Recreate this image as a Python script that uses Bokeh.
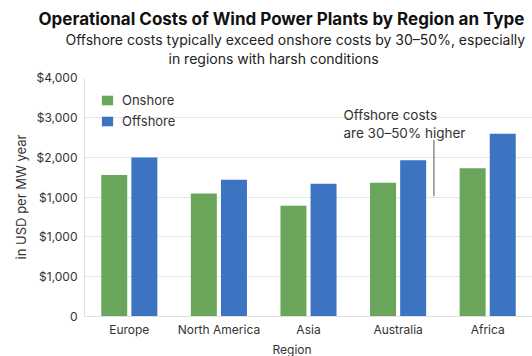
from bokeh.plotting import figure
from bokeh.models import ColumnDataSource, FixedTicker, Label, Legend, LegendItem, Title
from bokeh.transform import dodge
from bokeh.embed import file_html
from bokeh.resources import INLINE

regions = ["Europe", "North America", "Asia", "Australia", "Africa"]
onshore = [3550, 3090, 2780, 3360, 3720]
offshore = [3990, 3430, 3330, 3920, 4590]
y_ticks = [0, 1000, 2000, 3000, 4000, 5000, 6000]
y_tick_labels = ["0", "$1,000", "$1,000", "$1,000", "$2,000", "$3,000", "$4,000"]

title = "Operational Costs of Wind Power Plants by Region an Type"
subtitle1 = "Offshore costs typically exceed onshore costs by 30\u201350%, especially"
subtitle2 = "in regions with harsh conditions"
note1 = "Offshore costs"
note2 = "are 30\u201350% higher"
x_title = "Region"
y_title = "in USD per MW year"

FONT = "Inter"
GREEN = "#6aa55c"
BLUE = "#3c74c2"

src = ColumnDataSource(dict(region=regions, onshore=onshore, offshore=offshore))

p = figure(width=532, height=356, x_range=regions, y_range=(0, 6000),
           output_backend="svg", toolbar_location=None, title=None,
           min_border_left=84, min_border_right=0, min_border_top=77, min_border_bottom=38)
p.outline_line_color = None
p.background_fill_color = "white"
p.border_fill_color = "white"

r1 = p.vbar(x=dodge("region", -0.168, range=p.x_range), top="onshore", width=0.29,
            source=src, fill_color=GREEN, line_color=None)
r2 = p.vbar(x=dodge("region", 0.168, range=p.x_range), top="offshore", width=0.29,
            source=src, fill_color=BLUE, line_color=None)

p.x_range.range_padding = 0
p.xgrid.grid_line_color = None
p.ygrid.grid_line_color = "#e6e6e6"
p.yaxis.ticker = FixedTicker(ticks=y_ticks)
p.yaxis.major_label_overrides = {t: l for t, l in zip(y_ticks, y_tick_labels)}

for ax in (p.xaxis, p.yaxis):
    ax.axis_line_color = "#e0e0e0"
    ax.major_tick_line_color = None
    ax.minor_tick_line_color = None
    ax.major_tick_out = 0
    ax.major_tick_in = 0
    ax.minor_tick_out = 0
    ax.minor_tick_in = 0
    ax.major_label_text_font = FONT
    ax.major_label_text_font_size = "12px"
    ax.major_label_text_color = "#333333"

p.xaxis.major_label_standoff = 5
p.yaxis.axis_label = y_title
p.yaxis.axis_label_text_font = FONT
p.yaxis.axis_label_text_font_size = "13px"
p.yaxis.axis_label_text_font_style = "normal"
p.yaxis.axis_label_text_color = "#333333"
p.yaxis.major_label_standoff = 7
p.yaxis.axis_label_standoff = 5

# x-axis title as a compact title below the axis
p.add_layout(Title(text=x_title, text_font=FONT, text_font_size="12px",
                   text_font_style="normal", text_color="#333333",
                   align="left", offset=188, standoff=0), "below")

legend = Legend(items=[LegendItem(label="Onshore", renderers=[r1]),
                       LegendItem(label="Offshore", renderers=[r2])],
                location=(16, 187), margin=0, padding=8,
                glyph_width=14, glyph_height=12, label_height=12,
                label_standoff=8, spacing=5,
                label_text_font=FONT, label_text_font_size="13px",
                label_text_color="#333333",
                background_fill_alpha=0, border_line_color=None)
p.add_layout(legend)

# titles stacked above the frame: first added sits closest to the plot
p.add_layout(Title(text=" ", text_font_size="1px", standoff=8), "above")
p.add_layout(Title(text=subtitle2, text_font=FONT, text_font_size="14px",
                   text_font_style="normal", text_color="#222222",
                   align="left", offset=84, standoff=0), "above")
p.add_layout(Title(text=subtitle1, text_font=FONT, text_font_size="14px",
                   text_font_style="normal", text_color="#222222",
                   align="left", offset=-19, standoff=0), "above")
p.add_layout(Title(text=title, text_font=FONT, text_font_size="17px",
                   text_font_style="bold", text_color="#111111",
                   align="left", offset=-46, standoff=0), "above")

for yv, t in ((5060, note1), (4610, note2)):
    p.add_layout(Label(x=2.89, y=yv, text=t, text_font=FONT, text_font_size="13.5px",
                       text_align="left", text_baseline="alphabetic", text_color="#333333"))

p.segment(x0=[3.90], y0=[3020], x1=[3.90], y1=[4431], line_color="#555555", line_width=1)

open("out.html", "w").write(file_html(p, INLINE))
